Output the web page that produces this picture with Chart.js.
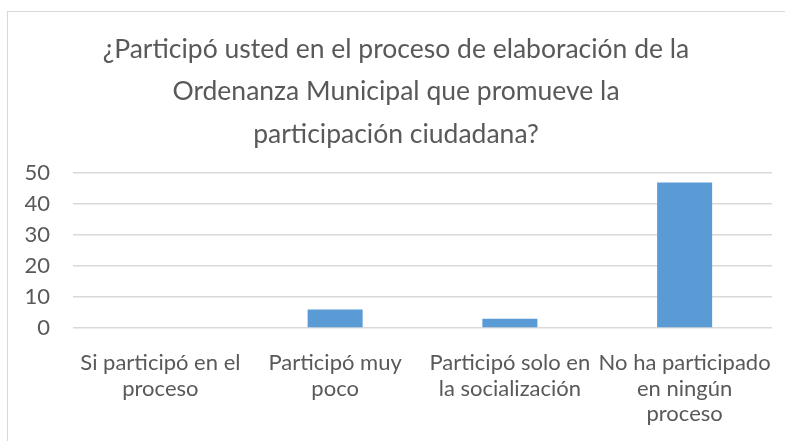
<!DOCTYPE html>
<html>
<head>
<meta charset="utf-8">
<script src="https://cdn.jsdelivr.net/npm/chart.js@4/dist/chart.umd.min.js"></script>
<style>
  body { margin: 0; background: #fff; }
  .frame { position: absolute; left: 7px; top: 11px; width: 777px; height: 500px; border: 1.5px solid #d9d9d9; border-bottom: none; border-right: none; }
  .wrap { position: absolute; left: 0; top: 0; width: 787px; height: 441px; }
</style>
</head>
<body>
<div class="frame"></div>
<div class="wrap"><canvas id="chart" width="787" height="441"></canvas></div>
<script>
const categories = [
  ['Si participó en el', 'proceso'],
  ['Participó muy', 'poco'],
  ['Participó solo en', 'la socialización'],
  ['No ha participado', 'en ningún', 'proceso']
];
const values = [0, 6, 3, 47];
const titleLines = [
  '¿Participó usted en el proceso de elaboración de la',
  'Ordenanza Municipal que promueve la',
  'participación ciudadana?'
];

const ctx = document.querySelector('#chart').getContext('2d');

// bar chart, excel look
new Chart(ctx, {
  type: 'bar',
  data: {
    labels: categories,
    datasets: [{
      data: values,
      backgroundColor: '#5b9bd5',
      barPercentage: 0.63,
      categoryPercentage: 0.5
    }]
  },
  options: {
    responsive: false,
    animation: false,
    layout: { padding: { left: 20, right: 15, top: 0, bottom: 0 } },
    plugins: {
      legend: { display: false },
      tooltip: { enabled: false },
      title: {
        display: true,
        text: titleLines,
        color: '#595959',
        font: { family: 'Lato', size: 26.5, weight: 'normal', lineHeight: 1.6 },
        padding: { top: 28, bottom: 18 }
      }
    },
    scales: {
      x: {
        grid: { display: false },
        border: { display: false },
        ticks: {
          color: '#595959',
          font: { family: 'Lato', size: 22, lineHeight: 1.17 },
          maxRotation: 0,
          autoSkip: false,
          padding: 14
        },
        afterFit: (scale) => { scale.height = 113; }
      },
      y: {
        min: 0,
        max: 50,
        grid: { color: '#d9d9d9', lineWidth: 1.5, drawTicks: false },
        border: { display: false },
        ticks: {
          stepSize: 10,
          color: '#595959',
          font: { family: 'Lato', size: 22 },
          padding: 23
        },
        afterFit: (scale) => { scale.width = 53; }
      }
    }
  }
});
</script>
</body>
</html>
